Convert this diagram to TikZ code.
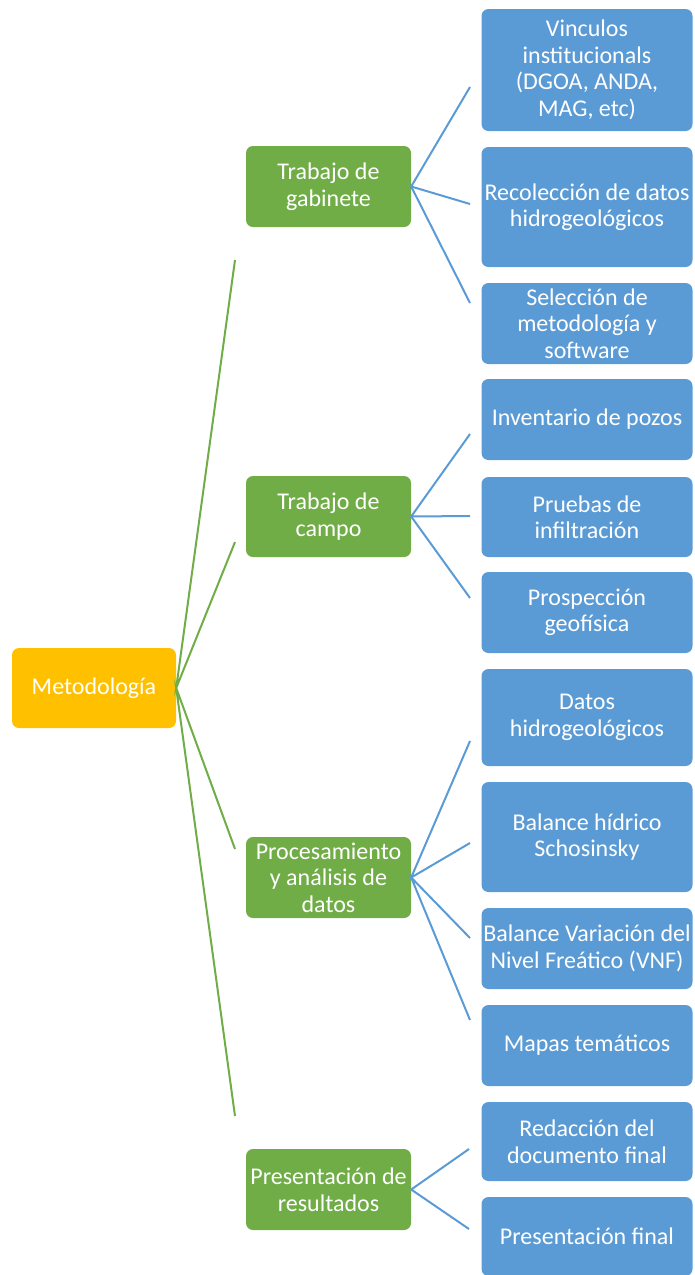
\documentclass[tikz,border=0pt]{standalone}
\usepackage{fontspec}
\setmainfont{Carlito}
\definecolor{rootorange}{HTML}{FFC000}
\definecolor{stepgreen}{HTML}{70AD47}
\definecolor{taskblue}{HTML}{5B9BD5}
\tikzstyle{box} = [rounded corners=7pt, inner sep=0pt, text=white, align=center, font=\fontsize{24}{26.5}\selectfont]
\tikzstyle{root} = [box, fill=rootorange, minimum width=164pt, minimum height=80pt]
\tikzstyle{stage} = [box, fill=stepgreen, minimum width=165pt, minimum height=81pt]
\tikzstyle{task} = [box, fill=taskblue, minimum width=211pt]
\tikzstyle{gline} = [draw=stepgreen, line width=2pt]
\tikzstyle{bline} = [draw=taskblue, line width=2pt]

\begin{document}
\begin{tikzpicture}[x=1pt,y=-1pt]
    \useasboundingbox (0,0) rectangle (694,1275);
    \draw (94,688) node[root] (met) {Metodología};

    \draw (328.5,186.5) node[stage] (gab) {Trabajo de\\gabinete};
    \draw (328.5,516.5) node[stage] (cam) {Trabajo de\\campo};
    \draw (328.5,877.5) node[stage] (proc) {Procesamiento\\y análisis de\\datos};
    \draw (328.5,1189.5) node[stage] (pres) {Presentación de\\resultados};

    \draw (587,70) node[task, minimum height=122pt] (vin) {Vinculos\\institucionals\\(DGOA, ANDA,\\MAG, etc)};
    \draw (587,207) node[task, minimum height=120pt] (rec) {Recolección de datos\\hidrogeológicos};
    \draw (587,323.5) node[task, minimum height=81pt] (sel) {Selección de\\metodología y\\software};
    \draw (587,419.5) node[task, minimum height=81pt] (inv) {Inventario de pozos};
    \draw (587,517) node[task, minimum height=80pt] (pru) {Pruebas de\\infiltración};
    \draw (587,612.5) node[task, minimum height=81pt] (pro) {Prospección\\geofísica};
    \draw (587,717.5) node[task, minimum height=97pt] (dat) {Datos\\hidrogeológicos};
    \draw (587,837) node[task, minimum height=110pt] (bal) {Balance hídrico\\Schosinsky};
    \draw (587,948.5) node[task, minimum height=81pt] (vnf) {Balance Variación del\\Nivel Freático (VNF)};
    \draw (587,1045.5) node[task, minimum height=81pt] (map) {Mapas temáticos};
    \draw (587,1141.5) node[task, minimum height=79pt] (red) {Redacción del\\documento final};
    \draw (587,1236.5) node[task, minimum height=79pt] (fin) {Presentación final};

    % free ends of the connectors
    \coordinate (m1) at (235,260);
    \coordinate (m2) at (235,542);
    \coordinate (m3) at (235,849);
    \coordinate (m4) at (235,1116);
    \coordinate (g1) at (470,87);
    \coordinate (g2) at (470,204);
    \coordinate (g3) at (470,303);
    \coordinate (c1) at (470,434);
    \coordinate (c2) at (470,516);
    \coordinate (c3) at (470,598);
    \coordinate (p1) at (470,741);
    \coordinate (p2) at (470,843);
    \coordinate (p3) at (470,938);
    \coordinate (p4) at (470,1020);
    \coordinate (r1) at (469,1149);
    \coordinate (r2) at (469,1229);

    \draw[gline] (m1) -- (met.east) -- (m2);
    \draw[gline] (m3) -- (met.east) -- (m4);
    \draw[bline] (g1) -- (gab.east) -- (g2);
    \draw[bline] (gab.east) -- (g3);
    \draw[bline] (c1) -- (cam.east) -- (c2);
    \draw[bline] (cam.east) -- (c3);
    \draw[bline] (p1) -- (proc.east) -- (p2);
    \draw[bline] (p3) -- (proc.east) -- (p4);
    \draw[bline] (r1) -- (pres.east) -- (r2);
\end{tikzpicture}
\end{document}
